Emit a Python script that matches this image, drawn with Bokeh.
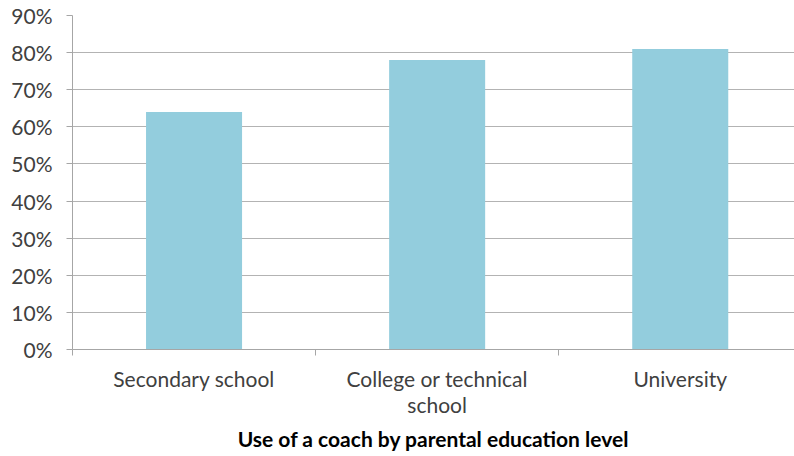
from bokeh.plotting import figure
from bokeh.models import FixedTicker, Range1d, NumeralTickFormatter, ColumnDataSource
from bokeh.embed import file_html
from bokeh.resources import INLINE

categories = ["Secondary school", "College or technical\nschool", "University"]
values = [0.64, 0.78, 0.81]
y_ticks = [0, 0.1, 0.2, 0.3, 0.4, 0.5, 0.6, 0.7, 0.8, 0.9]
title_text = "Use of a coach by parental education level"

centers = [i + 0.5 for i in range(len(categories))]
boundaries = [float(i) for i in range(len(categories) + 1)]

src = ColumnDataSource(dict(x=centers, top=values))

p = figure(width=794, height=456, output_backend="svg", toolbar_location=None,
           x_range=Range1d(0, 2.97), y_range=Range1d(0, 0.9),
           min_border_left=72, min_border_right=0, min_border_top=15, min_border_bottom=107)
p.outline_line_color = None
p.background_fill_color = "white"
p.border_fill_color = "white"

p.vbar(x="x", top="top", width=0.395, source=src, fill_color="#93CDDD", line_color=None)

font = "Lato"
tick_color = "#404040"

# y axis
p.yaxis.ticker = FixedTicker(ticks=y_ticks)
p.yaxis.formatter = NumeralTickFormatter(format="0%")
p.yaxis.major_label_text_font = font
p.yaxis.major_label_text_font_size = "21px"
p.yaxis.major_label_text_color = tick_color
p.yaxis.major_label_standoff = 14
p.yaxis.axis_line_color = "#A6A6A6"
p.yaxis.major_tick_line_color = "#A6A6A6"
p.yaxis.major_tick_out = 6
p.yaxis.major_tick_in = 0
p.yaxis.minor_tick_line_color = None

# x axis
p.xaxis.ticker = FixedTicker(ticks=centers, minor_ticks=boundaries)
p.xaxis.major_label_overrides = {c: lab for c, lab in zip(centers, categories)}
p.xaxis.major_label_text_font = font
p.xaxis.major_label_text_font_size = "21px"
p.xaxis.major_label_text_color = tick_color
p.xaxis.major_label_text_line_height = 1.05
p.xaxis.major_label_standoff = 10
p.xaxis.major_tick_line_color = None
p.xaxis.minor_tick_line_color = "#A6A6A6"
p.xaxis.minor_tick_out = 6
p.xaxis.minor_tick_in = 0
p.xaxis.axis_line_color = "#A6A6A6"
p.xaxis.axis_label = title_text
p.xaxis.axis_label_text_font = font
p.xaxis.axis_label_text_font_size = "21px"
p.xaxis.axis_label_text_font_style = "bold"
p.xaxis.axis_label_text_color = "black"
p.xaxis.axis_label_standoff = 6

p.xgrid.grid_line_color = None
p.ygrid.ticker = FixedTicker(ticks=y_ticks)
p.ygrid.grid_line_color = "#B3B3B3"
p.ygrid.grid_line_width = 1

open("out.html", "w").write(file_html(p, INLINE))
